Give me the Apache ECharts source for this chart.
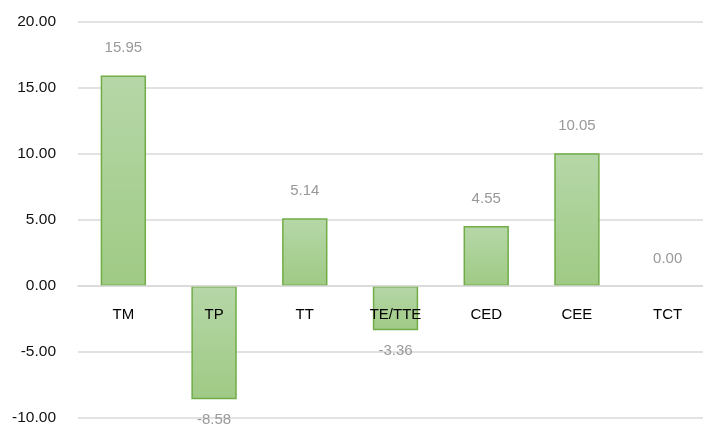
<!DOCTYPE html>
<html><head><meta charset="utf-8">
<script src="https://cdn.jsdelivr.net/npm/echarts@6/dist/echarts.min.js"></script>
<style>html,body{margin:0;padding:0;background:#fff}#c{width:703px;height:428px}</style>
</head><body><div id="c"></div>
<script>
const categories = ['TM','TP','TT','TE/TTE','CED','CEE','TCT'];
const values = [15.95,-8.58,5.14,-3.36,4.55,10.05,0.00];
const yMin = -10, yMax = 20, yStep = 5;

const gridTop = 22, gridBottom = 10, H = 428;
const plotH = H - gridTop - gridBottom;
const zeroOffset = plotH * (0 - yMin) / (yMax - yMin);

const chart = echarts.init(document.getElementById('c'));
chart.setOption({
  animation:false,
  grid:{left:78,right:-10,top:gridTop,bottom:gridBottom,containLabel:false,outerBoundsMode:'none'},
  xAxis:{type:'category',data:categories,z:5,offset:-zeroOffset,
    axisLine:{show:true,onZero:false,lineStyle:{color:'#d9d9d9',width:1.5}},
    axisTick:{show:false},
    axisLabel:{color:'#000',fontSize:15,fontFamily:'Liberation Sans',margin:21}},
  yAxis:{type:'value',min:yMin,max:yMax,interval:yStep,
    axisLine:{show:false},axisTick:{show:false},
    splitLine:{lineStyle:{color:'#d9d9d9',width:1.5}},
    axisLabel:{color:'#111',fontSize:15.5,fontFamily:'Liberation Sans',margin:22,
      formatter:v=>v.toFixed(2)}},
  series:[{type:'bar',data:values.map(v=>({value:v,
      itemStyle:v===0?{borderWidth:0}:undefined,
      label:{position:v<0?'bottom':'top',distance:v<0?13:20}})),
    barWidth:'50%',
    itemStyle:{color:new echarts.graphic.LinearGradient(0,0,0,1,[{offset:0,color:'#b6d7a8'},{offset:1,color:'#9fca84'}]),
      borderColor:'#70ad47',borderWidth:1.5},
    label:{show:true,color:'#999',fontSize:15,fontFamily:'Liberation Sans',formatter:p=>p.value.toFixed(2)}}]
});
</script></body></html>
